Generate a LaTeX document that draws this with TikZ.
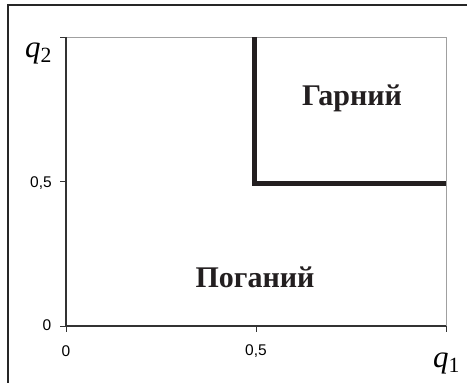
\documentclass[tikz,border=0pt]{standalone}
\usepackage{fontspec}
\setmainfont{Liberation Serif}
\newfontfamily\axisfont{Liberation Sans}
\definecolor{axisgray}{HTML}{333333}
\definecolor{edgegray}{HTML}{A0A0A0}
\definecolor{thickline}{HTML}{231F20}
\begin{document}
\begin{tikzpicture}[x=1pt,y=-1pt,
  ticklabel/.style={font=\axisfont\fontsize{15.5}{17}\selectfont, text=black, inner sep=0pt},
  axislabel/.style={font=\fontsize{31}{33}\selectfont\itshape, inner sep=0pt},
  region/.style={font=\fontsize{30}{32}\selectfont\bfseries, text=thickline, inner sep=0pt, anchor=base}]
\useasboundingbox (0,0) rectangle (467,383);
\fill[white] (0,0) rectangle (467,383);
% outer frame
\draw[line width=1.5pt, color=black!85] (8,383) -- (8,5) -- (467,5);
% plot area
\coordinate (O) at (66,326);
\coordinate (TL) at (66,37);
\coordinate (TR) at (446,37);
\coordinate (BR) at (446,326);
\draw[line width=0.9pt, edgegray] (TL) -- (TR) -- (BR);
\draw[line width=1.2pt, axisgray] (TL) -- (O) -- (BR);
% ticks
\foreach \y in {37,181.5,326} \draw[line width=1pt, axisgray] (60,\y) -- (66,\y);
\foreach \x in {66,256,446} \draw[line width=1pt, axisgray] (\x,326) -- (\x,332);
% tick labels
\node[ticklabel] (y0) at (47,325) {0};
\node[ticklabel] (y05) at (41,183) {0,5};
\node[ticklabel] (x0) at (66,351) {0};
\node[ticklabel] (x05) at (256,351) {0,5};
% axis labels
\node[axislabel, anchor=base west] (q2) at (25,57) {q\textsubscript{\upshape 2}};
\node[axislabel, anchor=base west] (q1) at (433,367) {q\textsubscript{\upshape 1}};
% boundary
\coordinate (A) at (254,37);
\coordinate (B) at (254,183.5);
\coordinate (C) at (446,183.5);
\draw[line width=5pt, thickline] (A) -- (B) -- (C);
% regions
\node[region] (good) at (352,105) {Гарний};
\node[region] (bad) at (255,287) {Поганий};
\end{tikzpicture}
\end{document}
